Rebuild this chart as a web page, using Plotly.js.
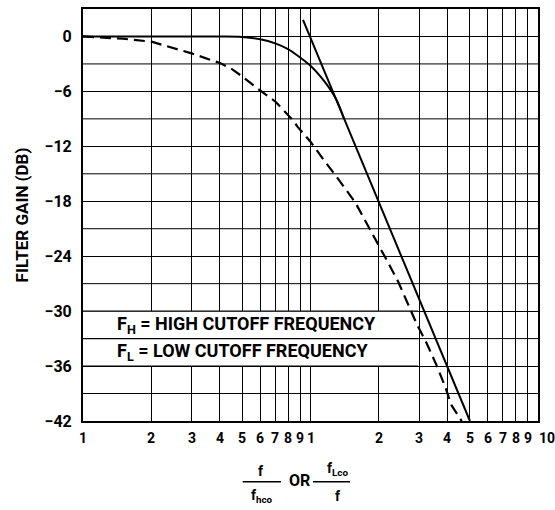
<!DOCTYPE html>
<html>
<head>
<meta charset="utf-8">
<script src="https://cdn.plot.ly/plotly-3.0.1.min.js"></script>
<style>html,body{margin:0;padding:0;background:#fff;}#chart{width:555px;height:510px;}</style>
</head>
<body>
<div id="chart"></div>
<script>
// ---- data ----
const solidX = [0.1, 0.2, 0.3, 0.4, 0.5, 0.6, 0.7, 0.8, 0.9, 1.0, 1.1, 1.2, 1.3, 1.4];
const solidY = [0, 0, 0, 0, -0.05, -0.3, -0.75, -1.4, -2.3, -3.2, -4.3, -5.5, -6.9, -8.9];

const asymX = [0.927, 5.02];
const asymY = [1.8, -42];

const dashX = [0.1, 0.15, 0.2, 0.3, 0.4, 0.45, 0.5, 0.6, 0.7, 0.76, 0.83, 0.88, 1.0, 1.16, 1.3, 1.57, 1.92, 2.16, 2.43, 2.65, 2.93, 3.24, 3.58, 3.9, 4.17, 4.62];
const dashY = [0, -0.25, -0.57, -1.85, -2.9, -3.55, -4.35, -5.9, -7.1, -8.05, -9.05, -9.9, -11.5, -13.7, -15.3, -18.1, -22.0, -24.4, -26.8, -29.0, -31.4, -33.5, -35.9, -38.2, -40.3, -42];

const xTickVals = [0.1, 0.2, 0.3, 0.4, 0.5, 0.6, 0.7, 0.8, 0.9, 1, 2, 3, 4, 5, 6, 7, 8, 9, 10];
const xTickText = ["1", "2", "3", "4", "5", "6", "7", "8", "9", "1", "2", "3", "4", "5", "6", "7", "8", "9", "10"];

const yTickVals = [0, -6, -12, -18, -24, -30, -36, -42];
const yTickText = ["0", "\u22126", "\u221212", "\u221218", "\u221224", "\u221230", "\u221236", "\u221242"];
const yOddGrid = [-3, -9, -15, -21, -27, -33, -39];

const noteLines = ["F<sub>H</sub> = HIGH CUTOFF FREQUENCY", "F<sub>L</sub> = LOW CUTOFF FREQUENCY"];
const noteY = [-31.5, -34.5];
const bandY = [-30, -33, -36];
const bandX = [0.1, 2.97];

// ---- chart ----
const FONT = "Roboto, 'DejaVu Sans', sans-serif";
const GRID = "#000";

const traces = [
  {x: solidX, y: solidY, mode: "lines", line: {color: "#000", width: 2, shape: "spline"}, hoverinfo: "skip"},
  {x: asymX, y: asymY, mode: "lines", line: {color: "#000", width: 2}, hoverinfo: "skip"},
  {x: dashX, y: dashY, mode: "lines", line: {color: "#000", width: 2.2, dash: "11px,6px"}, hoverinfo: "skip"}
];

const shapes = [];
// intermediate 3 dB grid lines
yOddGrid.forEach(v => shapes.push({type: "line", xref: "paper", yref: "y", x0: 0, x1: 1, y0: v, y1: v,
  line: {color: GRID, width: 1}, layer: "below"}));
// white legend band
shapes.push({type: "rect", xref: "x", yref: "y", x0: bandX[0], x1: bandX[1], y0: -36, y1: -30,
   fillcolor: "#fff", line: {width: 0}, layer: "between"});
bandY.forEach(v => shapes.push({type: "line", xref: "x", yref: "y", x0: bandX[0], x1: bandX[1], y0: v, y1: v,
  line: {color: GRID, width: 1.2}, layer: "between"}));
// fraction bars of the x-axis label
shapes.push({type: "line", xref: "paper", yref: "paper", x0: 0.351, x1: 0.435, y0: -0.1473, y1: -0.1473, line: {color: "#000", width: 1.5}});
shapes.push({type: "line", xref: "paper", yref: "paper", x0: 0.5055, x1: 0.5868, y0: -0.1473, y1: -0.1473, line: {color: "#000", width: 1.5}});

const bold = (size) => ({family: FONT, size: size, color: "#000", weight: "bold"});

const annotations = [];
// x tick labels (all digits shown, as in the reference)
xTickVals.forEach((v, i) => {
  const last = i === xTickVals.length - 1;
  annotations.push({
    xref: "x", yref: "paper", x: Math.log10(v), y: 0, yshift: -17, xshift: last ? -1 : 0,
    text: xTickText[i], showarrow: false,
    xanchor: last ? "left" : "center", yanchor: "middle", font: bold(14)
  });
});
noteLines.forEach((t, i) => annotations.push({
  xref: "x", yref: "y", x: -0.859, y: noteY[i], text: t, showarrow: false,
  xanchor: "left", yanchor: "middle", font: bold(18)
}));
const fracParts = [
  {x: 0.391, y: -0.121, text: "f", size: 14},
  {x: 0.393, y: -0.182, text: "f<sub>hco</sub>", size: 14},
  {x: 0.475, y: -0.1456, text: "OR", size: 16},
  {x: 0.560, y: -0.1165, text: "f<sub>Lco</sub>", size: 14},
  {x: 0.560, y: -0.182, text: "f", size: 14}
];
fracParts.forEach(p => annotations.push({
  xref: "paper", yref: "paper", x: p.x, y: p.y, text: p.text, showarrow: false,
  xanchor: "center", yanchor: "middle", font: bold(p.size)
}));

const layout = {
  width: 555, height: 510,
  margin: {l: 83, r: 17, t: 9, b: 89},
  paper_bgcolor: "#fff", plot_bgcolor: "#fff",
  showlegend: false,
  xaxis: {
    type: "log", range: [-1, 1],
    tickmode: "array", tickvals: xTickVals, showticklabels: false,
    showgrid: true, gridcolor: GRID, gridwidth: 1,
    showline: true, mirror: true, linecolor: "#000", linewidth: 2,
    ticks: "", zeroline: false
  },
  yaxis: {
    range: [-42, 3],
    tickmode: "array", tickvals: yTickVals, ticktext: yTickText,
    showgrid: true, gridcolor: GRID, gridwidth: 1,
    showline: true, mirror: true, linecolor: "#000", linewidth: 2,
    ticks: "", zeroline: false, ticklabelstandoff: 6,
    tickfont: bold(16),
    title: {text: "FILTER GAIN (DB)", font: bold(17), standoff: 12}
  },
  shapes: shapes,
  annotations: annotations
};

Plotly.newPlot("chart", traces, layout, {displayModeBar: false, staticPlot: true});
</script>
</body>
</html>
